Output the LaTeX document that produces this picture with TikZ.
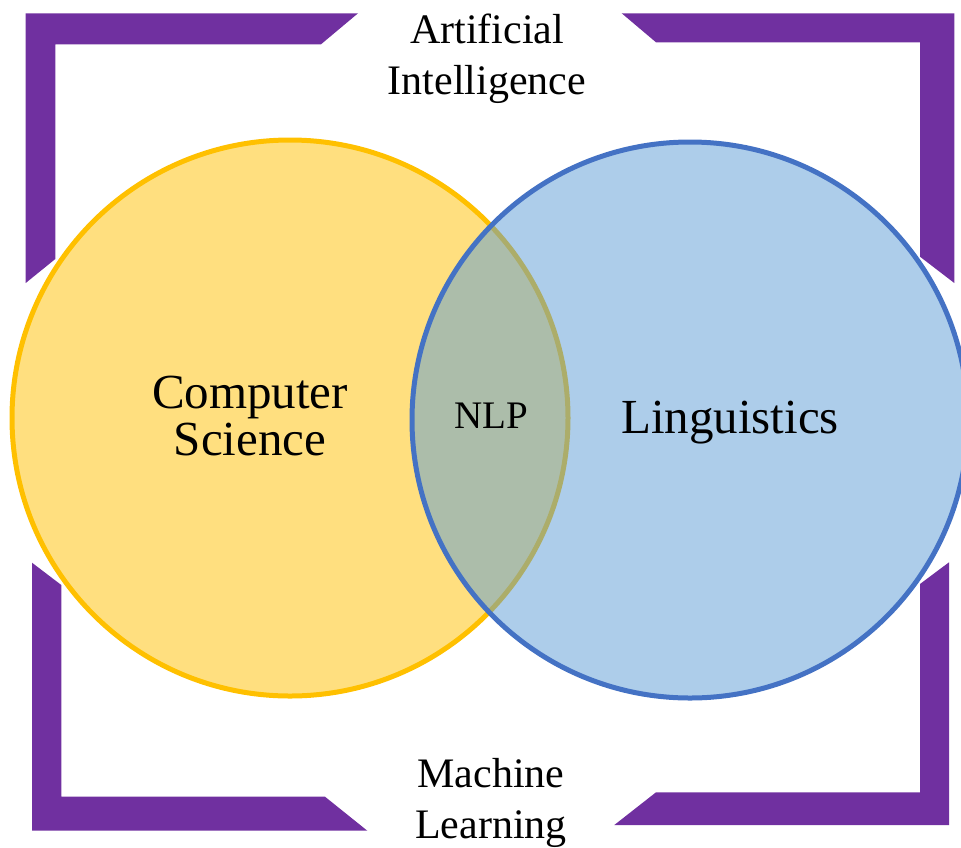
\documentclass[tikz,border=0pt]{standalone}
\usepackage{fontspec}
\setmainfont{Liberation Serif}
\definecolor{csgold}{HTML}{FFC000}
\definecolor{lingblue}{HTML}{5B9BD5}
\definecolor{lingedge}{HTML}{4472C4}
\definecolor{frameviolet}{HTML}{7030A0}
\begin{document}
\begin{tikzpicture}[x=1pt,y=-1pt,
  bracket/.style={fill=frameviolet,draw=none},
  setcs/.style={draw=csgold,line width=5pt,fill=csgold,fill opacity=0.5,draw opacity=1},
  setling/.style={draw=lingedge,line width=5pt,fill=lingblue,fill opacity=0.5,draw opacity=1},
  outerlabel/.style={font=\fontsize{42}{51}\selectfont,align=center,inner sep=0pt,anchor=base},
  setlabel/.style={font=\fontsize{49}{47}\selectfont,align=center,inner sep=0pt,anchor=base},
  corelabel/.style={font=\fontsize{39}{45}\selectfont,inner sep=0pt,anchor=base}]
\useasboundingbox (0,0) rectangle (961,847);
\clip (0,0) rectangle (961,847);

% corner brackets
\fill[bracket] (25.7,13.3) -- (358,13.3) -- (321,44.3) -- (55.3,44.3) -- (55.3,259) -- (25.7,283) -- cycle;
\fill[bracket] (621.7,13.3) -- (954.3,13.3) -- (954.3,283) -- (920,256.7) -- (920,42.3) -- (656,42.3) -- cycle;
\fill[bracket] (32,562.7) -- (61.3,585) -- (61.3,796.7) -- (325,796.7) -- (367.3,830.7) -- (32,830.7) -- cycle;
\fill[bracket] (949,562.3) -- (949,825) -- (614.3,825) -- (656,792.3) -- (920,792.3) -- (920,584) -- cycle;

% the two overlapping sets
\draw[setcs] (290,418) circle[radius=278pt];
\draw[setling] (690,420) circle[radius=278pt];

% labels (a multi-line node sits on the baseline of its last line)
\node[outerlabel] (ai) at (487,94) {Artificial\\Intelligence};
\node[setlabel] (cs) at (250,455) {Computer\\Science};
\node[corelabel] (nlp) at (491,428) {NLP};
\node[setlabel] (ling) at (730,433) {Linguistics};
\node[outerlabel] (ml) at (491,838) {Machine\\Learning};
\end{tikzpicture}
\end{document}
